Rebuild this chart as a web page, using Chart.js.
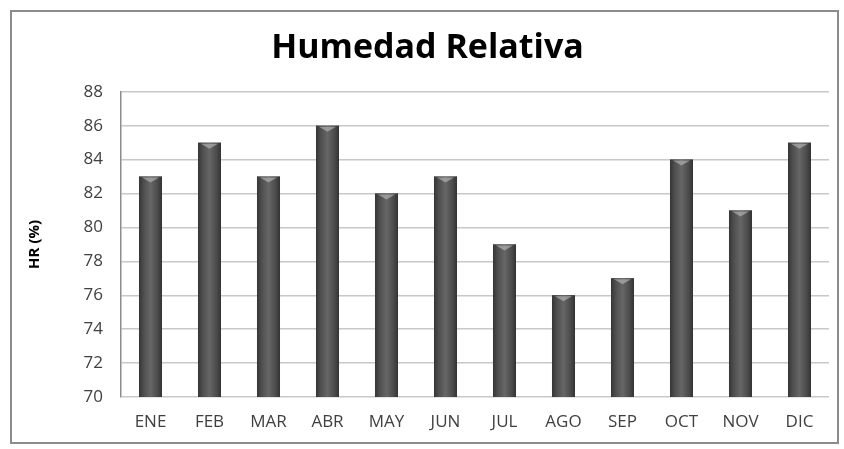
<!DOCTYPE html>
<html>
<head>
<meta charset="utf-8">
<script src="https://cdn.jsdelivr.net/npm/chart.js@4/dist/chart.umd.min.js"></script>
<style>
  html, body { margin: 0; padding: 0; background: #fff; }
  #wrap { width: 844px; height: 449px; }
</style>
</head>
<body>
<div id="wrap"><canvas id="hr-chart" width="844" height="449"></canvas></div>
<script>
const months = ["ENE", "FEB", "MAR", "ABR", "MAY", "JUN", "JUL", "AGO", "SEP", "OCT", "NOV", "DIC"];
const hrValues = [83, 85, 83, 86, 82, 83, 79, 76, 77, 84, 81, 85];
const yMin = 70;
const yMax = 88;
const yStep = 2;

// frame around the whole chart
const framePlugin = {
  id: 'frame',
  beforeDraw(chart) {
    const c = chart.ctx;
    c.save();
    c.fillStyle = '#ffffff';
    c.fillRect(0, 0, chart.width, chart.height);
    c.strokeStyle = '#8c8c8c';
    c.lineWidth = 2;
    c.strokeRect(11, 11, 827, 432);
    c.restore();
  }
};

// cylinder shading over each bar, using the bar element's own geometry
const shadePlugin = {
  id: 'shade',
  afterDatasetsDraw(chart) {
    const c = chart.ctx;
    const area = chart.chartArea;
    c.save();
    c.beginPath();
    c.rect(area.left, area.top, area.right - area.left, area.bottom - area.top);
    c.clip();
    chart.getDatasetMeta(0).data.forEach(function (bar) {
      const half = bar.width / 2;
      const bottom = Math.min(bar.base, area.bottom);
      const g = c.createLinearGradient(bar.x - half, 0, bar.x + half, 0);
      g.addColorStop(0, '#353535');
      g.addColorStop(0.2, '#4e4e4e');
      g.addColorStop(0.5, '#666666');
      g.addColorStop(0.8, '#4c4c4c');
      g.addColorStop(1, '#333333');
      c.fillStyle = g;
      c.fillRect(bar.x - half, bar.y, bar.width, bottom - bar.y);
      c.fillStyle = 'rgba(190,190,190,0.6)';
      c.beginPath();
      c.moveTo(bar.x - half + 3, bar.y + 1);
      c.lineTo(bar.x + half - 3, bar.y + 1);
      c.lineTo(bar.x, bar.y + 6);
      c.closePath();
      c.fill();
    });
    c.restore();
  }
};

new Chart(document.getElementById('hr-chart'), {
  type: 'bar',
  data: {
    labels: months,
    datasets: [{
      label: 'HR (%)',
      data: hrValues,
      backgroundColor: '#4a4a4a',
      borderWidth: 0,
      barPercentage: 0.39,
      categoryPercentage: 1
    }]
  },
  plugins: [framePlugin, shadePlugin],
  options: {
    responsive: false,
    animation: false,
    layout: { padding: { left: 26, right: 15, top: 28, bottom: 10 } },
    plugins: {
      legend: { display: false },
      tooltip: { enabled: false },
      title: {
        display: true,
        text: 'Humedad Relativa',
        color: '#000',
        font: { family: 'Open Sans', size: 34, weight: 'bold' },
        padding: { top: 0, bottom: 23 }
      }
    },
    scales: {
      x: {
        grid: { display: false, drawTicks: false },
        border: { display: false },
        ticks: {
          color: '#404040',
          padding: 15,
          font: { family: 'Open Sans', size: 17 }
        },
        afterFit(scale) { scale.height = 42; }
      },
      y: {
        min: yMin,
        max: yMax,
        ticks: {
          stepSize: yStep,
          color: '#404040',
          padding: 18,
          font: { family: 'Open Sans', size: 17 }
        },
        grid: { color: '#c8c8c8', lineWidth: 1.5, drawTicks: false },
        border: { color: '#8c8c8c', width: 1.5 },
        title: {
          display: true,
          text: 'HR (%)',
          color: '#000',
          font: { family: 'Open Sans', size: 15, weight: 'bold' },
          padding: { top: 0, bottom: 0 }
        },
        afterFit(scale) { scale.width = 95; }
      }
    }
  }
});
</script>
</body>
</html>
